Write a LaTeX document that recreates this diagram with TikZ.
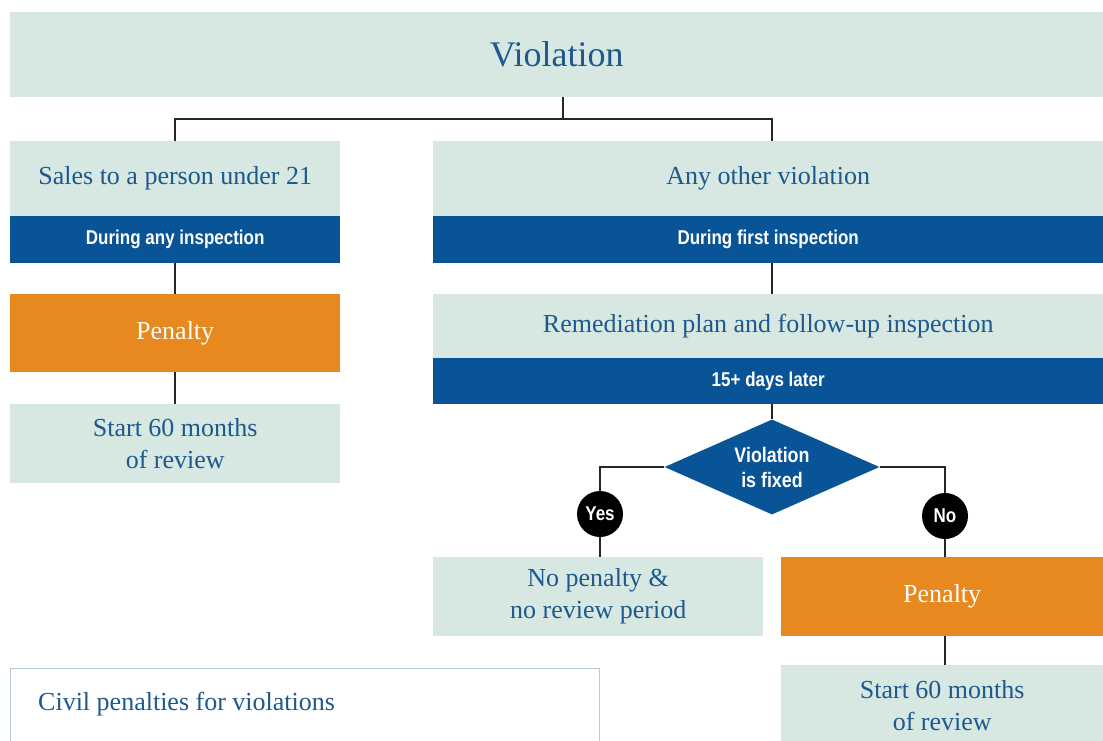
\documentclass[tikz,border=0pt]{standalone}
\usepackage{fontspec}
\setmainfont{Liberation Serif}
\newfontfamily\bandfont[FakeStretch=0.85]{Liberation Sans}
\usetikzlibrary{shapes.geometric}
\definecolor{boxfill}{RGB}{214,232,225}
\definecolor{bandblue}{RGB}{8,84,150}
\definecolor{orng}{RGB}{232,137,32}
\definecolor{txtblue}{RGB}{30,88,140}
\definecolor{legendline}{RGB}{184,200,214}
\begin{document}
\begin{tikzpicture}[x=1pt,y=-1pt,
  lightbox/.style={fill=boxfill,inner sep=0pt,anchor=north west,align=center,text=txtblue,font=\fontsize{26}{32}\selectfont},
  band/.style={fill=bandblue,inner sep=0pt,anchor=north west,align=center,text=white,font=\bandfont\bfseries\fontsize{20}{24}\selectfont},
  penbox/.style={fill=orng,inner sep=0pt,anchor=north west,align=center,text=white,font=\fontsize{26}{32}\selectfont},
  conn/.style={draw=black!85,line width=2pt},
  yn/.style={circle,fill=black,inner sep=0pt,minimum size=46pt,text=white,font=\bandfont\bfseries\fontsize{20}{24}\selectfont}]
\useasboundingbox[fill=white] (0,0) rectangle (1103,741);
% top
\node[lightbox,minimum width=1093pt,minimum height=85pt,font=\fontsize{36}{40}\selectfont] (top) at (10,12) {Violation};
% left column
\node[lightbox,minimum width=330pt,minimum height=75pt] (sales) at (10,141) {Sales to a person under 21};
\node[band,minimum width=330pt,minimum height=47pt] (anyinsp) at (10,216) {During any inspection};
\node[penbox,minimum width=330pt,minimum height=78pt] (pen1) at (10,294) {Penalty};
\node[lightbox,minimum width=330pt,minimum height=79pt] (rev1) at (10,404) {Start 60 months\\ of review};
% right column
\node[lightbox,minimum width=670pt,minimum height=75pt] (other) at (433,141) {Any other violation};
\node[band,minimum width=670pt,minimum height=47pt] (firstinsp) at (433,216) {During first inspection};
\node[lightbox,minimum width=670pt,minimum height=64pt] (remed) at (433,294) {Remediation plan and follow-up inspection};
\node[band,minimum width=670pt,minimum height=46pt] (later) at (433,358) {15+ days later};
\node[diamond,fill=bandblue,inner sep=0pt,minimum width=215pt,minimum height=95pt,aspect=2.26,text=white,align=center,font=\bandfont\bfseries\fontsize{21}{25}\selectfont] (fixed) at (772,467) {Violation\\ is fixed};
\node[yn] (yes) at (600,514) {Yes};
\node[yn] (no) at (945,516) {No};
\node[lightbox,minimum width=330pt,minimum height=79pt] (nopen) at (433,557) {No penalty \&\\ no review period};
\node[penbox,minimum width=322pt,minimum height=79pt] (pen2) at (781,557) {Penalty};
\node[lightbox,minimum width=322pt,minimum height=80pt] (rev2) at (781,665) {Start 60 months\\ of review};
% legend
\node[draw=legendline,line width=1.2pt,fill=white,anchor=north west,minimum width=589pt,minimum height=80pt,inner sep=0pt] (legend) at (10,668) {};
\node[anchor=west,text=txtblue,font=\fontsize{26}{30}\selectfont,inner sep=0pt] (legtext) at (38,704) {Civil penalties for violations};
% connectors
\coordinate (split) at (563,119);
\draw[conn] (top.south -| split) -- (split);
\draw[conn] (sales.north -| 175,0) |- (split) -| (other.north -| fixed);
\draw[conn] (anyinsp.south) -- (pen1.north);
\draw[conn] (pen1.south) -- (rev1.north);
\draw[conn] (firstinsp.south -| fixed) -- (remed.north -| fixed);
\draw[conn] (later.south -| fixed) -- (fixed.north);
\draw[conn] (fixed.west) -| (yes.north);
\draw[conn] (yes.south) -- (yes.south |- nopen.north);
\draw[conn] (fixed.east) -| (no.north);
\draw[conn] (no.south) -- (no.south |- pen2.north);
\draw[conn] (pen2.south -| no) -- (rev2.north -| no);
\end{tikzpicture}
\end{document}
